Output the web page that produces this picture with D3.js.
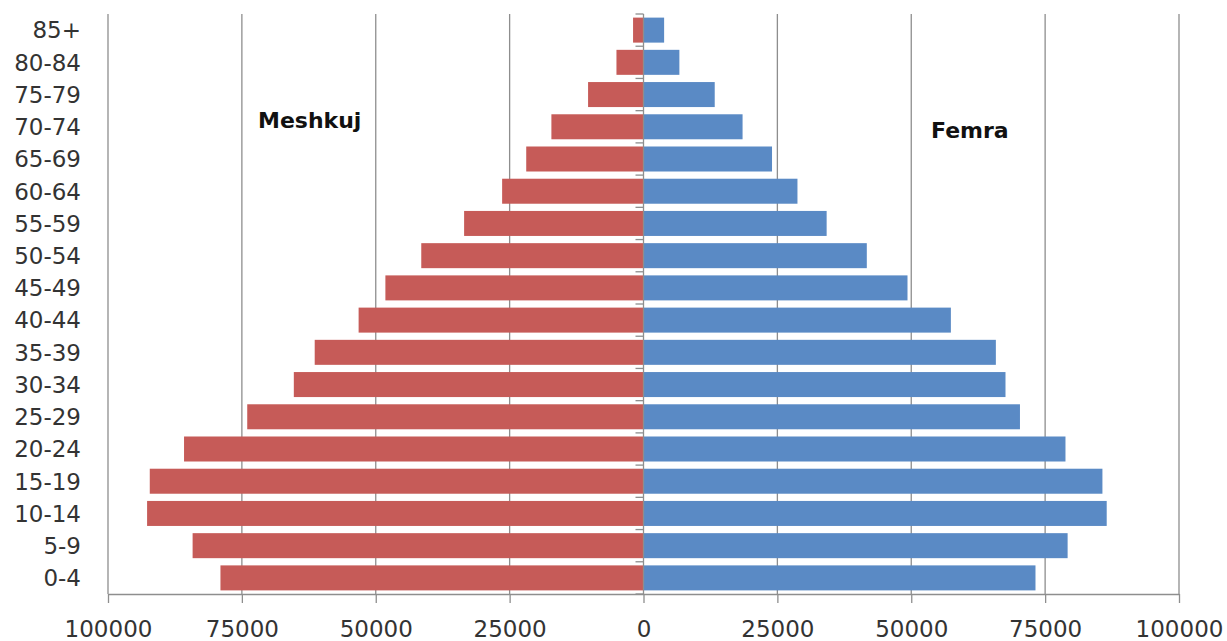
<!DOCTYPE html>
<html>
<head>
<meta charset="utf-8">
<script src="https://cdn.jsdelivr.net/npm/d3@7"></script>
<style>
  html, body { margin: 0; padding: 0; background: #fff; }
  svg { display: block; }
</style>
</head>
<body>
<div id="chart"></div>
<script>
// Age groups, oldest at the top
const ageGroups = ["85+", "80-84", "75-79", "70-74", "65-69", "60-64", "55-59", "50-54",
  "45-49", "40-44", "35-39", "30-34", "25-29", "20-24", "15-19", "10-14", "5-9", "0-4"];

// Population by age group
const males = [1950, 5050, 10350, 17200, 21900, 26400, 33500, 41500,
  48200, 53200, 61400, 65300, 74000, 85800, 92200, 92700, 84200, 79000];
const females = [3850, 6700, 13300, 18500, 24000, 28750, 34200, 41700,
  49300, 57400, 65800, 67600, 70300, 78800, 85700, 86500, 79200, 73200];

const xTickValues = [-100000, -75000, -50000, -25000, 0, 25000, 50000, 75000, 100000];
const seriesLabels = ["Meshkuj", "Femra"];

const width = 1227, height = 641;
const margin = { top: 14, right: 48, bottom: 47, left: 108 };

const svg = d3.select("#chart").append("svg")
  .attr("width", width).attr("height", height);

const x = d3.scaleLinear()
  .domain([-100000, 100000])
  .range([margin.left, width - margin.right]);

const y = d3.scaleBand()
  .domain(ageGroups)
  .range([margin.top, height - margin.bottom])
  .paddingInner(0.224)
  .paddingOuter(0.112);

const gridColor = "#8e8e8e";
const font = "'DejaVu Sans', sans-serif";
const bottom = height - margin.bottom;

// Vertical gridlines (zero is drawn separately as the category axis)
svg.append("g")
  .selectAll("line")
  .data(xTickValues.filter(d => d !== 0))
  .join("line")
  .attr("x1", d => x(d)).attr("x2", d => x(d))
  .attr("y1", margin.top).attr("y2", bottom)
  .attr("stroke", gridColor).attr("stroke-width", 1.3);

// Bottom value axis
const xAxis = svg.append("g")
  .attr("transform", `translate(0,${bottom})`)
  .call(d3.axisBottom(x).tickValues(xTickValues)
    .tickFormat(d => String(Math.abs(d))).tickSizeInner(9).tickSizeOuter(0));
xAxis.select(".domain").attr("stroke", gridColor).attr("stroke-width", 1.3);
xAxis.selectAll(".tick line").attr("stroke", gridColor).attr("stroke-width", 1.3);
xAxis.selectAll(".tick text")
  .attr("font-family", font).attr("font-size", 23).attr("fill", "#333")
  .attr("dy", null).attr("y", 43);

// Tick marks at category boundaries along the zero axis
const boundaries = ageGroups.map(g => y(g) - y.step() * y.paddingInner() / 2)
  .concat([bottom]);
svg.append("g")
  .selectAll("line")
  .data(boundaries)
  .join("line")
  .attr("x1", x(0) - 8).attr("x2", x(0))
  .attr("y1", d => d).attr("y2", d => d)
  .attr("stroke", gridColor).attr("stroke-width", 1.3);

// Bars
svg.append("g")
  .selectAll("rect")
  .data(ageGroups.map((g, i) => ({ g, v: males[i] })))
  .join("rect")
  .attr("x", d => x(-d.v))
  .attr("y", d => y(d.g))
  .attr("width", d => x(0) - x(-d.v))
  .attr("height", y.bandwidth())
  .attr("fill", "#c65b58");

svg.append("g")
  .selectAll("rect")
  .data(ageGroups.map((g, i) => ({ g, v: females[i] })))
  .join("rect")
  .attr("x", x(0))
  .attr("y", d => y(d.g))
  .attr("width", d => x(d.v) - x(0))
  .attr("height", y.bandwidth())
  .attr("fill", "#5a8ac5");

// Zero axis line
svg.append("line")
  .attr("x1", x(0)).attr("x2", x(0))
  .attr("y1", margin.top).attr("y2", bottom)
  .attr("stroke", gridColor).attr("stroke-width", 1.3);

// Age group labels at the left edge
svg.append("g")
  .selectAll("text")
  .data(ageGroups)
  .join("text")
  .attr("x", 81)
  .attr("y", d => y(d) + y.bandwidth() / 2)
  .attr("dy", "0.36em")
  .attr("text-anchor", "end")
  .attr("font-family", font).attr("font-size", 23).attr("fill", "#333")
  .text(d => d);

// Series labels
svg.append("text")
  .attr("x", 258).attr("y", 127.5)
  .attr("font-family", font).attr("font-size", 22).attr("font-weight", "bold").attr("fill", "#111")
  .text(seriesLabels[0]);
svg.append("text")
  .attr("x", 931).attr("y", 137.5)
  .attr("font-family", font).attr("font-size", 22).attr("font-weight", "bold").attr("fill", "#111")
  .text(seriesLabels[1]);
</script>
</body>
</html>
